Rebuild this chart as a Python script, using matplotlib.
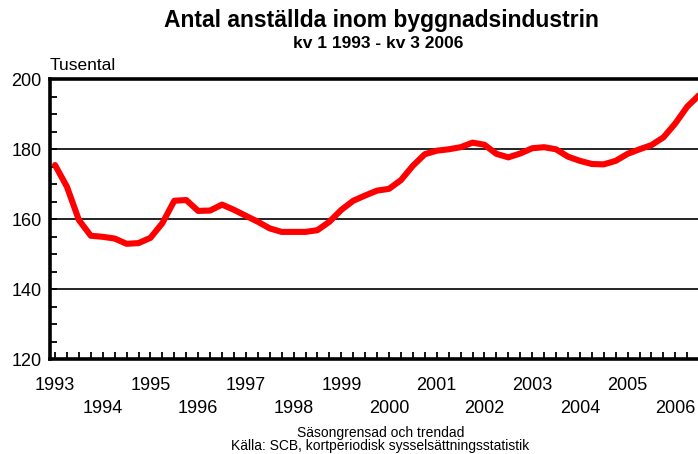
import matplotlib
matplotlib.use("Agg")
import matplotlib.pyplot as plt
from matplotlib.ticker import MultipleLocator, FixedLocator

plt.rcParams['font.family'] = ['Liberation Sans', 'DejaVu Sans']

# anställda i byggnadsindustrin, tusental, kv1 1993 - kv3 2006 (säsongrensad, trendad)
years = list(range(1993, 2007))
values = [175.5, 169.3, 159.8, 155.3, 155.0, 154.5, 153.0, 153.2,
          154.7, 158.9, 165.3, 165.5, 162.4, 162.5, 164.2, 162.7,
          161.0, 159.3, 157.4, 156.4, 156.4, 156.4, 156.9, 159.3,
          162.7, 165.3, 166.8, 168.2, 168.7, 171.2, 175.3, 178.6,
          179.6, 180.0, 180.6, 181.9, 181.3, 178.7, 177.7, 178.8,
          180.3, 180.6, 180.0, 177.9, 176.7, 175.8, 175.7, 176.7,
          178.7, 180.0, 181.2, 183.4, 187.4, 192.2, 195.5]
quarters = list(range(len(values)))

fig = plt.figure(figsize=(6.98, 4.54), dpi=100)
ax = fig.add_axes([50 / 698, 94.7 / 454, 1 - 50 / 698, 280 / 454])

ax.plot(quarters, values, color='#ff0000', lw=4.4, solid_joinstyle='round',
        solid_capstyle='round', zorder=3)

ax.set_ylim(120, 200)
ax.set_xlim(-0.42, 53.9)

# rutnät
for g in (140, 160, 180):
    ax.axhline(g, color='black', lw=1.2, zorder=1)

for s in ('left', 'bottom', 'top'):
    ax.spines[s].set_linewidth(2.6)
ax.spines['right'].set_visible(False)

ax.yaxis.set_major_locator(MultipleLocator(20))
ax.yaxis.set_minor_locator(MultipleLocator(5))
ax.tick_params(axis='y', which='both', direction='in', length=5, width=1.3,
               labelsize=13, pad=6)

xpos = [4 * (y - 1993) for y in years]
xlab = [str(y) if y % 2 == 1 else '\n' + str(y) for y in years]
ax.xaxis.set_major_locator(FixedLocator(xpos))
ax.set_xticklabels(xlab, fontsize=13, linespacing=1.45)
ax.xaxis.set_minor_locator(MultipleLocator(1))
ax.tick_params(axis='x', which='both', direction='in', length=5, width=1.3, pad=13)

fig.text(0.546, 1 - 20 / 454, 'Antal anställda inom byggnadsindustrin',
         ha='center', va='center', fontsize=16.5, fontweight='bold')
fig.text(0.542, 1 - 44 / 454, 'kv 1 1993 - kv 3 2006',
         ha='center', va='center', fontsize=12.5, fontweight='bold')
fig.text(50 / 698, 1 - 65 / 454, 'Tusental', ha='left', va='center', fontsize=12.5)
fig.text(0.545, 1 - 433 / 454, 'Säsongrensad och trendad',
         ha='center', va='center', fontsize=10)
fig.text(0.545, 1 - 446 / 454, 'Källa: SCB, kortperiodisk sysselsättningsstatistik',
         ha='center', va='center', fontsize=10)

fig.savefig('out.png', dpi=100)
